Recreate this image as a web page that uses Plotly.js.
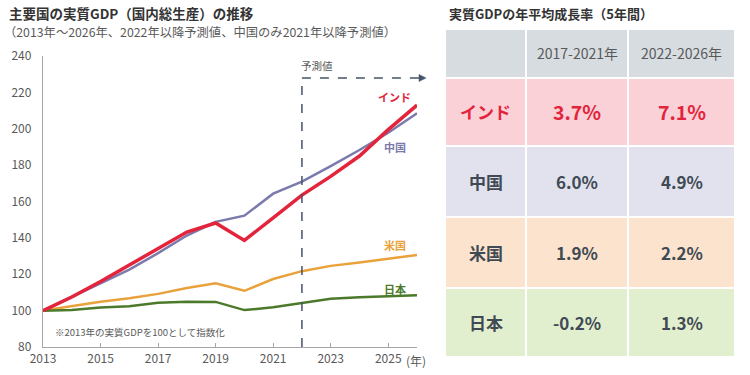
<!DOCTYPE html>
<html>
<head>
<meta charset="utf-8">
<script src="https://cdn.plot.ly/plotly-3.0.1.min.js"></script>
<style>html,body{margin:0;padding:0;background:#fff;}#chart{width:750px;height:375px;}</style>
</head>
<body>
<div id="chart"></div>
<script>
// ---- data ----
const years = [2013,2014,2015,2016,2017,2018,2019,2020,2021,2022,2023,2024,2025,2026];
const india = [100,107.5,116,125,134.2,143.2,148.2,138.6,151,163.5,173.8,185,199.5,213];
const china = [100,107.5,115,122.5,131.6,141.3,148.8,152.2,164.3,170.9,179.4,188.3,197.8,208.5];
const usa   = [100,102.6,104.9,106.8,109.2,112.4,115,110.9,117.4,121.7,124.6,126.4,128.6,130.6];
const japan = [100,100.4,101.7,102.4,104.3,104.9,104.8,100.3,101.8,104,106.5,107.3,108,108.5];
const seriesNames = ['インド','中国','米国','日本'];
const xTickVals = [2013,2015,2017,2019,2021,2023,2025];
const yTickVals = [80,100,120,140,160,180,200,220,240];
const forecastStart = 2022;

const tableRowLabels = ['インド','中国','米国','日本'];
const tablePeriods = ['2017-2021年','2022-2026年'];
const growth2017_2021 = ['3.7%','6.0%','1.9%','-0.2%'];
const growth2022_2026 = ['7.1%','4.9%','2.2%','1.3%'];

// ---- styles ----
const FONT = '"Noto Sans CJK JP", "Noto Sans", sans-serif';
const colors = ['#e3243b','#7b7aad','#e9a23b','#4b7a2a'];
const widths = [3.5,2.5,2.5,2.5];
const W = 750, H = 375;
const px = (x) => x / W, py = (y) => 1 - y / H;

const xDom = [px(43), px(417)];
const yDom = [py(347), py(56)];
const xRange = [2013, 2026], yRange = [80, 240];
const xToPx = (v) => 43 + (v - xRange[0]) / (xRange[1] - xRange[0]) * (417 - 43);

const allSeries = [india, china, usa, japan];
const traces = allSeries.map((vals, i) => ({
  type: 'scatter', mode: 'lines', x: years, y: vals, name: seriesNames[i],
  line: {color: colors[i], width: widths[i]}, hoverinfo: 'skip', xaxis: 'x', yaxis: 'y'
}));
// draw India on top
traces.push(traces.shift());

// table as heatmap
const colEdges = [0, 81, 183, 290];
const rowEdges = [0, 48.5, 117, 188, 259, 328];
const zRows = [[0,0,0],[1,1,1],[2,2,2],[3,3,3],[4,4,4]];
const tableColors = ['#d6dce0','#f9d1d7','#e1e2ee','#fce3cd','#e2efcf'];
const cs = [];
tableColors.forEach((c, i) => { cs.push([i/5, c]); cs.push([(i+1)/5, c]); });
traces.push({
  type: 'heatmap', x: colEdges, y: rowEdges, z: zRows, zmin: -0.5, zmax: 4.5,
  colorscale: cs, showscale: false, xgap: 2, ygap: 2, hoverinfo: 'skip',
  xaxis: 'x2', yaxis: 'y2'
});

const ann = [];
const colMid = (c) => (colEdges[c] + colEdges[c+1]) / 2;
const rowMid = (r) => (rowEdges[r] + rowEdges[r+1]) / 2;
tablePeriods.forEach((t, j) => ann.push({
  xref: 'x2', yref: 'y2', x: colMid(j+1), y: rowMid(0), text: t, showarrow: false,
  font: {family: FONT, size: 14, color: '#595959'}
}));
tableRowLabels.forEach((lab, r) => {
  const isIndia = r === 0;
  const col = isIndia ? '#e3243b' : '#3f4a54';
  const vals = [lab, growth2017_2021[r], growth2022_2026[r]];
  vals.forEach((v, c) => ann.push({
    xref: 'x2', yref: 'y2', x: colMid(c), y: rowMid(r+1), text: '<b>' + v + '</b>', showarrow: false,
    font: {family: FONT, size: c === 0 ? 17 : (isIndia ? 19.5 : 17), color: col}
  }));
});

// series labels
seriesNames.forEach((n, i) => ann.push({
  xref: 'paper', yref: 'paper', x: px(395), y: py([97,147,245,289][i]), text: '<b>' + n + '</b>',
  showarrow: false, font: {family: FONT, size: 11, color: colors[i]}, xanchor: 'center', yanchor: 'middle'
}));

// titles and notes
ann.push({xref:'paper', yref:'paper', x: px(7), y: py(13), xanchor:'left', yanchor:'middle', showarrow:false,
  text:'<b>主要国の実質GDP（国内総生産）の推移</b>', font:{family:FONT, size:13.5, color:'#333333'}});
ann.push({xref:'paper', yref:'paper', x: px(2), y: py(32), xanchor:'left', yanchor:'middle', showarrow:false,
  text:'（2013年～2026年、2022年以降予測値、中国のみ2021年以降予測値）', font:{family:FONT, size:12.3, color:'#595959'}});
ann.push({xref:'paper', yref:'paper', x: px(447), y: py(14), xanchor:'left', yanchor:'middle', showarrow:false,
  text:'<b>実質GDPの年平均成長率（5年間）</b>', font:{family:FONT, size:13, color:'#333333'}});
ann.push({xref:'paper', yref:'paper', x: px(53), y: py(332), xanchor:'left', yanchor:'middle', showarrow:false,
  text:'※2013年の実質GDPを100として指数化', font:{family:FONT, size:9.5, color:'#595959'}});
ann.push({xref:'paper', yref:'paper', x: px(317), y: py(66), xanchor:'center', yanchor:'middle', showarrow:false,
  text:'予測値', font:{family:FONT, size:10.5, color:'#595959'}});
ann.push({xref:'paper', yref:'paper', x: px(404), y: py(360), xanchor:'left', yanchor:'middle', showarrow:false,
  text:'(年)', font:{family:FONT, size:12, color:'#595959'}});

const fx = px(xToPx(forecastStart));
const arrowY = py(78);
const shapes = [
  {type:'line', xref:'paper', yref:'paper', x0: fx, x1: fx, y0: py(347), y1: arrowY,
   line:{color:'#44546a', width:1.5, dash:'dash'}},
  {type:'line', xref:'paper', yref:'paper', x0: fx, x1: px(420), y0: arrowY, y1: arrowY,
   line:{color:'#44546a', width:1.5, dash:'dash'}},
  {type:'path', xref:'paper', yref:'paper',
   path: `M ${px(419)} ${py(74.5)} L ${px(426)} ${py(78)} L ${px(419)} ${py(81.5)} Z`,
   fillcolor:'#44546a', line:{color:'#44546a', width:0.5}}
];

const layout = {
  width: W, height: H, margin: {l:0, r:0, t:0, b:0}, paper_bgcolor:'#ffffff', plot_bgcolor:'rgba(0,0,0,0)',
  showlegend: false, font: {family: FONT},
  xaxis: {domain: xDom, range: xRange, tickvals: xTickVals, ticktext: xTickVals.map(String),
    showgrid:false, zeroline:false, showline:true, linecolor:'#a6a6a6', linewidth:1.2,
    ticks:'inside', ticklen:4, tickcolor:'#a6a6a6', tickfont:{family:FONT, size:12, color:'#595959'}, fixedrange:true},
  yaxis: {domain: yDom, range: yRange, tickvals: yTickVals, showgrid:false, zeroline:false, showline:true,
    linecolor:'#a6a6a6', linewidth:1.2, ticks:'', ticklabelstandoff: 8,
    tickfont:{family:FONT, size:12, color:'#595959'}, fixedrange:true},
  xaxis2: {domain:[px(445), px(735)], range:[0, 290], visible:false, fixedrange:true, anchor:'y2'},
  yaxis2: {domain:[py(357), py(29)], range:[328, 0], visible:false, fixedrange:true, anchor:'x2'},
  annotations: ann, shapes: shapes
};

Plotly.newPlot('chart', traces, layout, {displayModeBar:false, staticPlot:true});
</script>
</body>
</html>
